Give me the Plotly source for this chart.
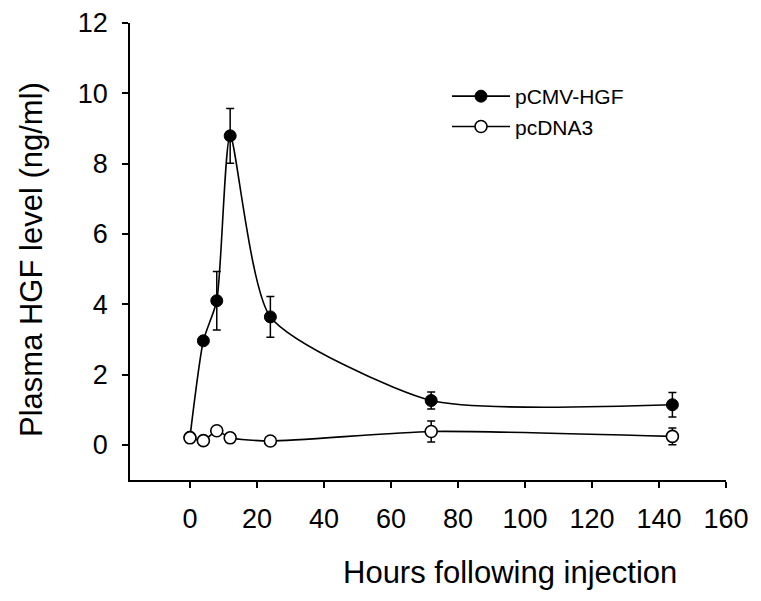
import plotly.graph_objects as go

# ---- data ----
hours = [0, 4, 8, 12, 24, 72, 144]
hgf_mean = [0.22, 2.96, 4.10, 8.79, 3.64, 1.26, 1.14]
hgf_err = [0.0, 0.0, 0.83, 0.78, 0.58, 0.24, 0.35]
ctrl_mean = [0.20, 0.12, 0.40, 0.20, 0.11, 0.38, 0.24]
ctrl_err = [0.0, 0.0, 0.0, 0.0, 0.0, 0.30, 0.24]
series_names = ["pCMV-HGF", "pcDNA3"]
x_ticks = [0, 20, 40, 60, 80, 100, 120, 140, 160]
y_ticks = [0, 2, 4, 6, 8, 10, 12]

# page has an 8px body margin; compensate so the plot area lands at
# page x 130..726, page y 23..480
OFF = 8
W, H = 761 - OFF, 601 - OFF
PL, PR, PT, PB = 130, 726, 23, 480          # plot area in page pixels
L, T = PL - OFF, PT - OFF
R = W - (PR - OFF)
B = H - (PB - OFF)
FONT = "Liberation Sans, Arial, sans-serif"

fig = go.Figure()
fig.add_trace(go.Scatter(
    x=hours, y=hgf_mean, name=series_names[0], mode="lines+markers",
    line=dict(color="black", width=1.6, shape="spline", smoothing=0.6),
    marker=dict(symbol="circle", size=12, color="black", line=dict(color="black", width=1)),
    error_y=dict(type="data", array=hgf_err, visible=True, color="black", thickness=1.5, width=4),
))
fig.add_trace(go.Scatter(
    x=hours, y=ctrl_mean, name=series_names[1], mode="lines+markers",
    line=dict(color="black", width=1.6, shape="spline", smoothing=0.6),
    marker=dict(symbol="circle", size=12, color="white", line=dict(color="black", width=1.6)),
    error_y=dict(type="data", array=ctrl_err, visible=True, color="black", thickness=1.5, width=4),
))

def px_x(p):
    return (p - PL) / (PR - PL)

def px_y(p):
    return 1 - (p - PT) / (PB - PT)

fig.update_layout(
    width=W, height=H,
    margin=dict(l=L, r=R, t=T, b=B, autoexpand=False),
    paper_bgcolor="white", plot_bgcolor="white",
    font=dict(family=FONT, color="black"),
    showlegend=True,
    legend=dict(
        x=px_x(447), y=px_y(76), xanchor="left", yanchor="top",
        bgcolor="rgba(0,0,0,0)", font=dict(size=21, family=FONT),
        itemwidth=58, tracegroupgap=0,
    ),
    xaxis=dict(
        range=[-17.9, 160], tickvals=x_ticks, ticktext=[str(v) for v in x_ticks],
        showline=True, linecolor="black", linewidth=1.5, mirror=False,
        ticks="outside", ticklen=6, tickwidth=1.5, tickcolor="black",
        showgrid=False, zeroline=False, automargin=False,
        tickfont=dict(size=27, family=FONT), ticklabelstandoff=8,
    ),
    yaxis=dict(
        range=[-1, 12], tickvals=y_ticks, ticktext=[str(v) for v in y_ticks],
        showline=True, linecolor="black", linewidth=1.5, mirror=False,
        ticks="outside", ticklen=6, tickwidth=1.5, tickcolor="black",
        showgrid=False, zeroline=False, automargin=False,
        tickfont=dict(size=27, family=FONT), ticklabelstandoff=9,
    ),
    annotations=[
        dict(text="Hours following injection", xref="paper", yref="paper",
             x=px_x(510), y=px_y(572), xanchor="center", yanchor="middle",
             showarrow=False, font=dict(size=31, family=FONT)),
        dict(text="Plasma HGF level (ng/ml)", xref="paper", yref="paper",
             x=px_x(31), y=px_y(260), xanchor="center", yanchor="middle",
             textangle=-90, showarrow=False, font=dict(size=31, family=FONT)),
    ],
)

fig.write_html("out.html")
